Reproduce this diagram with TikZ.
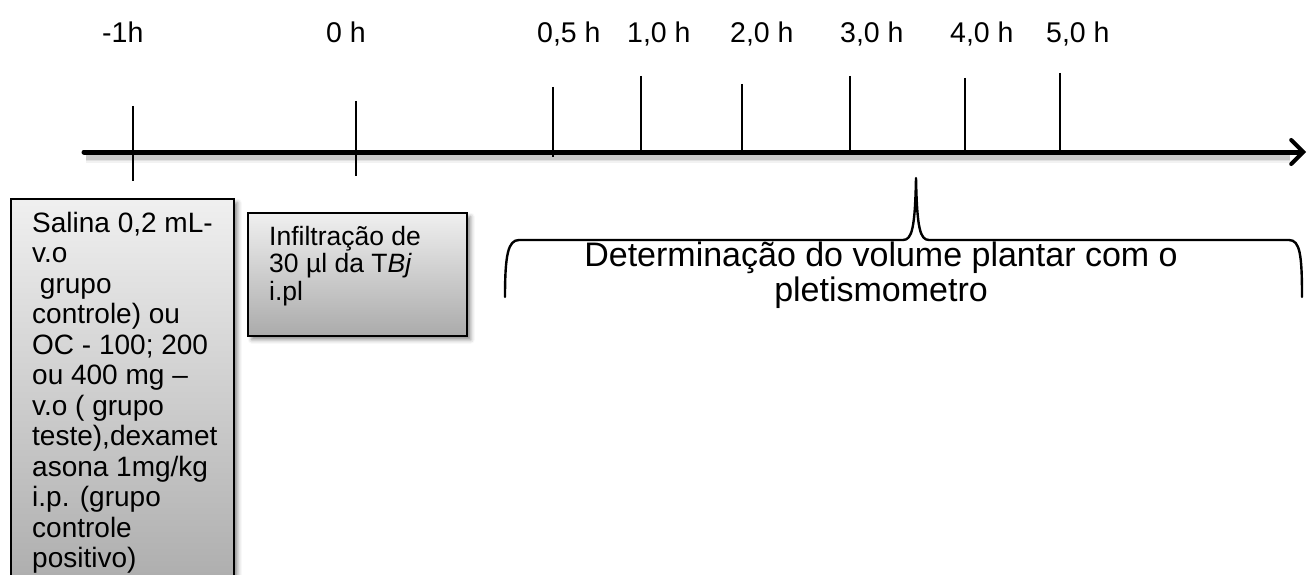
\documentclass[tikz,border=0pt]{standalone}
\usepackage{fontspec}
\setmainfont{Liberation Sans}
\usetikzlibrary{arrows.meta,shadows.blur}

\begin{document}
\begin{tikzpicture}[x=1pt,y=-1pt,
  tlabel/.style={inner sep=0pt, anchor=base west, font=\fontsize{28.5}{30}\selectfont},
  tickmark/.style={line width=1.6pt, black},
  axisline/.style={line width=5pt, line cap=round,
    -{Straight Barb[length=12pt,width=24pt,line width=4pt,line cap=round]}},
  gradbox/.style={draw=black, line width=1.5pt, top color=black!6, bottom color=black!33,
    blur shadow={shadow xshift=4pt, shadow yshift=-4pt, shadow blur radius=4pt, shadow opacity=45},
    inner sep=0pt, anchor=north west},
  boxtext/.style={inner sep=0pt, anchor=north west, align=left},
  bracepath/.style={line width=2.4pt, line cap=round, line join=round}]

\useasboundingbox (0,0) rectangle (1311,575);
\clip (0,0) rectangle (1311,575);

% soft shadow under the time axis
\foreach \w/\o in {11/0.05, 8/0.07, 5/0.10}
  \draw[line width=\w pt, black, opacity=\o] (86,157) -- (1290,157);

% time axis
\coordinate (axstart) at (84,152);
\coordinate (axend) at (1306,152);
\draw[axisline] (axstart) -- (axend);

% tick marks
\foreach \n/\x/\t/\b in {m1/133/106/181, z/356/101/176, a/553/87/157, b/641/76/152,
                        c/742/84/152, d/850/76/152, e/965/78/152, f/1060/73/152} {
  \coordinate (tt\n) at (\x,\t);
  \coordinate (tb\n) at (\x,\b);
  \draw[tickmark] (tt\n) -- (tb\n);
}

% time labels
\node[tlabel] (lm1) at (102,43) {-1h};
\node[tlabel] (lz)  at (326,43) {0 h};
\node[tlabel] (la)  at (537,43) {0,5 h};
\node[tlabel] (lb)  at (627,43) {1,0 h};
\node[tlabel] (lc)  at (730,43) {2,0 h};
\node[tlabel] (ld)  at (840,43) {3,0 h};
\node[tlabel] (le)  at (950,43) {4,0 h};
\node[tlabel] (lf)  at (1046,43) {5,0 h};

% treatment box (-1 h)
\node[gradbox, minimum width=223pt, minimum height=400pt] (box1) at (10,198) {};
\node[boxtext, font=\fontsize{28}{30.5}\selectfont] (txt1) at (32,212)
  {Salina 0,2 mL-\\v.o\\\ grupo\\controle) ou\\OC - 100; 200\\ou 400 mg –\\v.o ( grupo\\teste),dexamet\\asona 1mg/kg\\i.p. (grupo\\controle\\positivo)};

% infiltration box (0 h)
\node[gradbox, minimum width=219pt, minimum height=123pt] (box2) at (247,212) {};
\node[boxtext, font=\fontsize{26.5}{27.5}\selectfont] (txt2) at (269,226)
  {Infiltração de\\30 µl da T\textit{Bj}\\i.pl};

% brace over the measurement period
\coordinate (brL) at (505,297);
\coordinate (brTip) at (916,178);
\coordinate (brR) at (1302,297);
\draw[bracepath] (brL) .. controls (505,255) and (508,240) .. (519,240)
  -- (903,240) .. controls (912,240) and (915,228) .. (brTip)
  .. controls (917,228) and (920,240) .. (929,240)
  -- (1289,240) .. controls (1300,240) and (1302,255) .. (brR);

\node[inner sep=0pt, align=center, font=\fontsize{34}{34.5}\selectfont] (measure) at (881,275)
  {Determinação do volume plantar com o\\pletismometro};

\end{tikzpicture}
\end{document}
